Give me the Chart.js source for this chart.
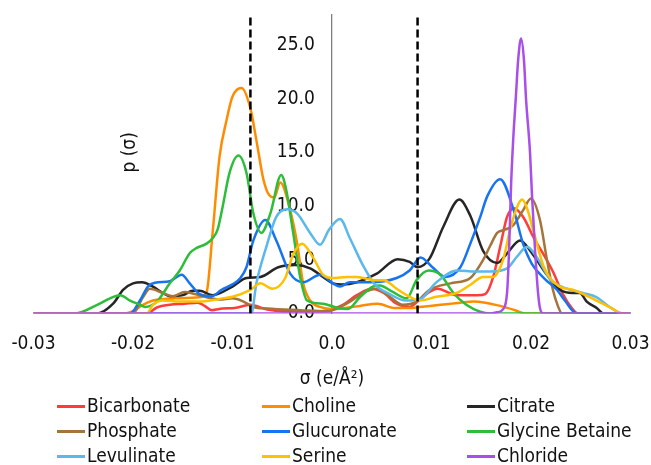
<!DOCTYPE html>
<html>
<head>
<meta charset="utf-8">
<script src="https://cdn.jsdelivr.net/npm/chart.js@4.4.0/dist/chart.umd.min.js"></script>
<style>
  html, body { margin: 0; padding: 0; background: #fff; }
  #wrap { position: relative; width: 651px; height: 465px; font-family: 'DejaVu Sans Condensed', 'DejaVu Sans', sans-serif; }
  #chart { position: absolute; left: 0; top: 0; }
  .item { position: absolute; height: 24px; line-height: 24px; font-size: 19px; color: #111; white-space: nowrap; transform: translateY(-50%); }
  .item i { display: inline-block; width: 28px; height: 3px; vertical-align: middle; margin-right: 2px; }
</style>
</head>
<body>
<div id="wrap">
  <canvas id="chart" width="651" height="465"></canvas>
  <div id="legend"></div>
</div>
<script>
// sigma profiles, sigma in e/A^2, p(sigma)
const sigmaBicarbonate = [-0.0300, -0.0186, -0.0176, -0.0163, -0.0148, -0.0135, -0.0128, -0.0121, -0.0110, -0.0098, -0.0082, -0.0065, -0.0049, -0.0012, 0.0000, 0.0011, 0.0025, 0.0040, 0.0052, 0.0065, 0.0078, 0.0086, 0.0098, 0.0106, 0.0125, 0.0146, 0.0154, 0.0162, 0.0169, 0.0176, 0.0183, 0.0192, 0.0203, 0.0212, 0.0222, 0.0232, 0.0241, 0.0247, 0.0300];
const pBicarbonate = [0, 0, 0.55, 0.8, 0.9, 1.0, 0.7, 0.3, 0.45, 0.5, 0.8, 0.35, 0.2, 0.2, 0.4, 0.8, 1.7, 2.3, 1.9, 0.9, 0.6, 1.1, 2.0, 2.3, 1.7, 1.7, 1.8, 3.4, 6.2, 9.0, 9.8, 9.0, 7.0, 5.6, 3.9, 1.8, 0.5, 0, 0];

const sigmaCholine = [-0.0300, -0.0208, -0.0200, -0.0190, -0.0180, -0.0158, -0.0133, -0.0126, -0.0120, -0.0113, -0.0106, -0.0100, -0.0091, -0.0082, -0.0075, -0.0069, -0.0063, -0.0058, -0.0052, -0.0042, -0.0035, -0.0029, -0.0022, -0.0012, 0.0000, 0.0013, 0.0028, 0.0046, 0.0063, 0.0078, 0.0088, 0.0109, 0.0129, 0.0142, 0.0154, 0.0169, 0.0184, 0.0194, 0.0300];
const pCholine = [0, 0, 0.2, 0.8, 1.2, 1.4, 1.5, 2.0, 7.5, 14.6, 18.0, 20.2, 21.0, 19.1, 15.6, 12.5, 11.0, 10.8, 12.2, 9.6, 6.5, 2.8, 1.2, 0.6, 0.4, 0.5, 0.7, 0.9, 0.5, 0.5, 0.6, 0.8, 1.0, 1.1, 1.0, 0.7, 0.3, 0, 0];

const sigmaCitrate = [-0.0300, -0.0236, -0.0220, -0.0210, -0.0200, -0.0191, -0.0180, -0.0170, -0.0163, -0.0150, -0.0140, -0.0133, -0.0120, -0.0100, -0.0086, -0.0072, -0.0054, -0.0037, -0.0022, -0.0009, 0.0001, 0.0010, 0.0025, 0.0045, 0.0066, 0.0078, 0.0086, 0.0098, 0.0112, 0.0128, 0.0139, 0.0152, 0.0166, 0.0176, 0.0189, 0.0201, 0.0216, 0.0229, 0.0242, 0.0249, 0.0256, 0.0266, 0.0273, 0.0300];
const pCitrate = [0, 0, 0.9, 2.2, 2.8, 2.9, 2.5, 1.9, 1.6, 1.7, 2.1, 2.1, 1.7, 2.5, 3.3, 3.4, 4.3, 4.5, 4.2, 3.4, 2.8, 2.7, 2.9, 3.7, 5.05, 4.8, 4.3, 5.1, 8.1, 10.6, 9.1, 5.8, 4.7, 5.6, 6.8, 5.6, 3.6, 2.2, 1.9, 1.9, 1.1, 0.5, 0, 0];

const sigmaPhosphate = [-0.0300, -0.0200, -0.0190, -0.0183, -0.0170, -0.0160, -0.0148, -0.0138, -0.0126, -0.0113, -0.0100, -0.0089, -0.0079, -0.0065, -0.0032, -0.0005, 0.0008, 0.0018, 0.0031, 0.0045, 0.0058, 0.0071, 0.0085, 0.0098, 0.0119, 0.0139, 0.0152, 0.0159, 0.0166, 0.0174, 0.0182, 0.0192, 0.0200, 0.0209, 0.0216, 0.0222, 0.0227, 0.0231, 0.0300];
const pPhosphate = [0, 0, 1.5, 2.3, 1.9, 1.6, 2.0, 1.8, 1.5, 1.3, 1.4, 1.1, 0.6, 0.45, 0.3, 0.2, 0.6, 1.1, 1.9, 2.3, 1.55, 0.8, 1.1, 2.2, 2.8, 3.3, 5.0, 6.3, 7.5, 7.8, 8.2, 9.6, 10.7, 8.7, 5.0, 2.2, 0.7, 0, 0];

const sigmaGlucuronate = [-0.0300, -0.0203, -0.0193, -0.0185, -0.0178, -0.0163, -0.0151, -0.0143, -0.0133, -0.0121, -0.0111, -0.0100, -0.0092, -0.0086, -0.0079, -0.0067, -0.0056, -0.0042, -0.0029, -0.0012, 0.0001, 0.0008, 0.0018, 0.0038, 0.0065, 0.0078, 0.0089, 0.0101, 0.0114, 0.0129, 0.0139, 0.0149, 0.0156, 0.0169, 0.0183, 0.0192, 0.0201, 0.0214, 0.0226, 0.0234, 0.0246, 0.0300];
const pGlucuronate = [0, 0, 1.2, 2.5, 2.85, 3.0, 3.6, 2.8, 1.8, 1.6, 2.2, 2.7, 3.3, 4.3, 6.8, 8.7, 6.8, 3.7, 2.9, 3.6, 2.8, 2.5, 2.9, 2.9, 3.3, 4.0, 5.2, 4.3, 3.4, 4.3, 6.5, 9.0, 10.9, 12.5, 9.5, 6.5, 4.6, 3.2, 2.2, 1.2, 0, 0];

const sigmaGlycine = [-0.0300, -0.0258, -0.0236, -0.0223, -0.0213, -0.0203, -0.0193, -0.0188, -0.0176, -0.0163, -0.0153, -0.0143, -0.0136, -0.0126, -0.0120, -0.0115, -0.0110, -0.0103, -0.0094, -0.0086, -0.0079, -0.0071, -0.0062, -0.0051, -0.0046, -0.0039, -0.0032, -0.0025, -0.0009, 0.0006, 0.0016, 0.0028, 0.0041, 0.0048, 0.0061, 0.0075, 0.0085, 0.0097, 0.0109, 0.0122, 0.0135, 0.0149, 0.0159, 0.0300];
const pGlycine = [0, 0, 0.8, 1.4, 1.7, 1.2, 0.8, 0.6, 1.1, 2.8, 4.0, 5.6, 6.1, 6.5, 7.0, 7.8, 9.9, 13.1, 14.7, 13.1, 9.3, 7.5, 9.3, 12.9, 11.5, 7.5, 3.4, 1.2, 0.9, 0.5, 0.4, 1.5, 2.5, 2.6, 2.0, 1.4, 3.1, 4.0, 3.6, 1.9, 0.8, 0.15, 0, 0];

const sigmaLevulinate = [-0.0300, -0.0081, -0.0076, -0.0066, -0.0056, -0.0045, -0.0035, -0.0022, -0.0012, -0.0003, 0.0008, 0.0018, 0.0031, 0.0043, 0.0058, 0.0074, 0.0088, 0.0105, 0.0126, 0.0144, 0.0159, 0.0176, 0.0186, 0.0196, 0.0206, 0.0219, 0.0236, 0.0252, 0.0266, 0.0279, 0.0292, 0.0300];
const pLevulinate = [0, 0, 2.8, 6.2, 9.0, 9.7, 9.3, 7.5, 6.4, 7.8, 8.8, 7.0, 4.5, 2.7, 1.8, 1.2, 1.3, 2.9, 4.0, 3.9, 3.9, 4.2, 5.3, 6.2, 5.2, 3.2, 2.3, 1.9, 1.5, 0.6, 0, 0];

const sigmaSerine = [-0.0300, -0.0186, -0.0180, -0.0170, -0.0153, -0.0133, -0.0110, -0.0100, -0.0082, -0.0072, -0.0060, -0.0047, -0.0039, -0.0030, -0.0019, -0.0009, 0.0001, 0.0015, 0.0025, 0.0043, 0.0052, 0.0065, 0.0078, 0.0088, 0.0105, 0.0125, 0.0138, 0.0152, 0.0162, 0.0172, 0.0179, 0.0186, 0.0191, 0.0196, 0.0203, 0.0213, 0.0227, 0.0242, 0.0257, 0.0272, 0.0281, 0.0291, 0.0300];
const pSerine = [0, 0, 0.8, 1.2, 1.1, 1.1, 1.4, 1.55, 2.2, 2.8, 2.3, 3.3, 5.5, 6.5, 5.2, 3.6, 3.3, 3.4, 3.4, 3.1, 3.1, 2.3, 1.55, 1.2, 1.55, 1.9, 2.6, 3.4, 3.4, 5.0, 7.8, 9.9, 10.6, 9.8, 7.5, 4.3, 2.6, 2.2, 1.6, 0.9, 0.5, 0, 0];

const sigmaChloride = [-0.0300, 0.0160, 0.0166, 0.0172, 0.0176, 0.0178, 0.0180, 0.0182, 0.0185, 0.0187, 0.0190, 0.0193, 0.0195, 0.0199, 0.0201, 0.0204, 0.0207, 0.0209, 0.0212, 0.0300];
const pChloride = [0, 0, 0.1, 0.4, 2.0, 6.0, 12.0, 16.0, 20.5, 23.5, 25.6, 23.5, 20.0, 15.0, 11.0, 6.0, 2.0, 0.5, 0, 0];

// hydrogen bond cut-off lines
const sigmaCutoffs = [-0.0082, 0.0086];

const names = ['Bicarbonate', 'Choline', 'Citrate', 'Phosphate', 'Glucuronate', 'Glycine Betaine', 'Levulinate', 'Serine', 'Chloride'];
const sigmas = [sigmaBicarbonate, sigmaCholine, sigmaCitrate, sigmaPhosphate, sigmaGlucuronate, sigmaGlycine, sigmaLevulinate, sigmaSerine, sigmaChloride];
const profiles = [pBicarbonate, pCholine, pCitrate, pPhosphate, pGlucuronate, pGlycine, pLevulinate, pSerine, pChloride];
const colors = ['#ff3b3b', '#ff8c00', '#262626', '#a5743a', '#1673f2', '#2dbd38', '#5ab8ea', '#ffc000', '#a94ee8'];

const yMax = 27.8;
const yTitleAt = [-0.0203, 15.0];   // where the free-floating "p (σ)" label sits, in data units
const FONT = "'DejaVu Sans Condensed', 'DejaVu Sans', sans-serif";

Chart.defaults.font.family = FONT;
Chart.defaults.font.size = 19;
Chart.defaults.color = '#111';

const datasets = names.map((name, i) => ({
    label: name,
    data: sigmas[i].map((s, k) => ({ x: s, y: profiles[i][k] })),
    borderColor: colors[i],
    backgroundColor: colors[i],
    borderWidth: 2.5,
    pointRadius: 0,
    fill: false,
    cubicInterpolationMode: 'monotone',
    order: names.length - i
}));

sigmaCutoffs.forEach(c => {
    datasets.push({
        label: 'cutoff',
        data: [{ x: c, y: 0 }, { x: c, y: yMax }],
        borderColor: '#000',
        borderWidth: 2.5,
        borderDash: [8, 4],
        pointRadius: 0,
        tension: 0,
        order: 0
    });
});

// rotated y title placed freely inside the plot, like the original
const yTitlePlugin = {
    id: 'yTitle',
    afterDraw(chart) {
        const { ctx, scales } = chart;
        ctx.save();
        ctx.translate(scales.x.getPixelForValue(yTitleAt[0]), scales.y.getPixelForValue(yTitleAt[1]));
        ctx.rotate(-Math.PI / 2);
        ctx.font = '19px ' + FONT;
        ctx.fillStyle = '#111';
        ctx.textAlign = 'center';
        ctx.textBaseline = 'middle';
        ctx.fillText('p (σ)', 0, 0);
        ctx.restore();
    }
};

new Chart(document.getElementById('chart'), {
    type: 'line',
    data: { datasets },
    options: {
        responsive: false,
        animation: false,
        devicePixelRatio: 1,
        layout: { padding: { left: 33.5, right: 20.5, top: 15, bottom: 75 } },
        plugins: { legend: { display: false }, tooltip: { enabled: false } },
        scales: {
            x: {
                type: 'linear',
                min: -0.03,
                max: 0.03,
                // invisible tick marks only keep the labels away from the baseline
                grid: { display: false, drawTicks: true, tickLength: 19 },
                border: { display: false },
                ticks: {
                    stepSize: 0.01,
                    padding: 0,
                    maxRotation: 0,
                    callback: v => Math.abs(v) < 1e-9 ? '0.0' : v.toFixed(2)
                },
                title: { display: true, text: 'σ (e/Å²)', padding: { top: 12, bottom: 0 } }
            },
            y: {
                type: 'linear',
                position: { x: 0 },
                min: 0,
                max: yMax,
                grid: { display: false, drawTicks: false },
                border: { display: true, color: '#7f7f7f', width: 1.3 },
                ticks: {
                    stepSize: 5,
                    padding: 0,
                    // two en spaces keep the labels off the axis line
                    callback: v => v.toFixed(1) + '\u2002\u2002'
                },
                afterBuildTicks: scale => {
                    scale.ticks = scale.ticks.filter(t => Math.abs(t.value / 5 - Math.round(t.value / 5)) < 1e-6);
                }
            }
        }
    },
    plugins: [yTitlePlugin]
});

// legend laid out in three fixed columns, row by row
const legendCols = [57, 262, 467];
const legendRows = [405, 430, 455];
const legend = document.getElementById('legend');
names.forEach((name, i) => {
    const el = document.createElement('div');
    el.className = 'item';
    el.style.left = legendCols[i % 3] + 'px';
    el.style.top = legendRows[Math.floor(i / 3)] + 'px';
    el.innerHTML = '<i style="background:' + colors[i] + '"></i>' + name;
    legend.appendChild(el);
});
</script>
</body>
</html>
